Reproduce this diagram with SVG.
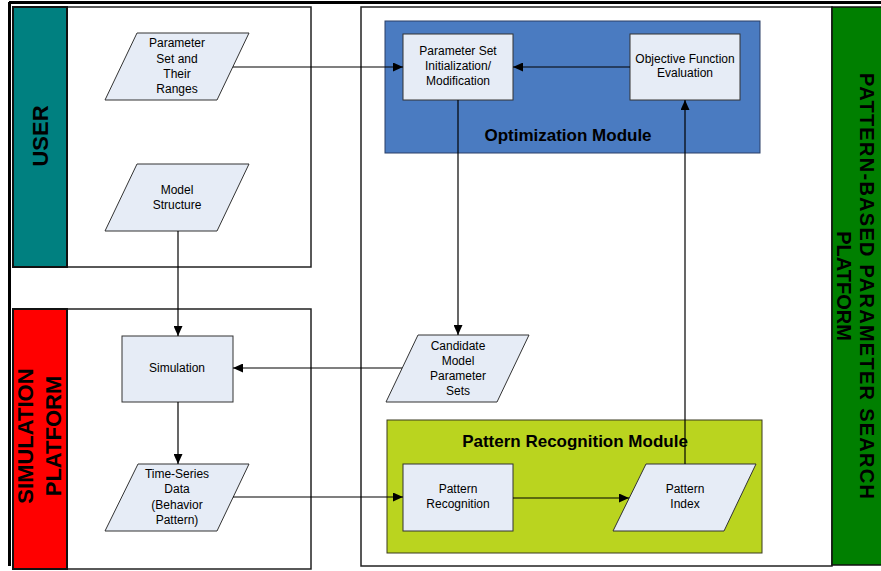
<svg xmlns="http://www.w3.org/2000/svg" width="881" height="571" viewBox="0 0 881 571">
<style>
.lane{fill:#ffffff;stroke:#222;stroke-width:1.5}
.node{fill:#E6ECF6;stroke:#333;stroke-width:1}
.t{font-family:"Liberation Sans",Arial,sans-serif;font-size:12px;fill:#000;text-anchor:middle}
.band{font-family:"Liberation Sans",Arial,sans-serif;font-size:22px;font-weight:bold;fill:#000;text-anchor:middle}
.title{font-family:"Liberation Sans",Arial,sans-serif;font-size:17px;font-weight:bold;fill:#000;text-anchor:middle}
.c{fill:none;stroke:#000;stroke-width:1.2;marker-end:url(#ah)}
</style>
<defs>
<marker id="ah" markerUnits="userSpaceOnUse" markerWidth="11" markerHeight="9" refX="10" refY="4.5" orient="auto">
<path d="M0,0 L10,4.5 L0,9 z" fill="#000"/>
</marker>
</defs>
<rect width="881" height="571" fill="#ffffff"/>
<g id="frame">
<line x1="9" y1="2.5" x2="881" y2="2.5" stroke="#000" stroke-width="3"/>
<line x1="9.5" y1="2" x2="9.5" y2="566" stroke="#000" stroke-width="3"/>
</g>
<g id="user-lane">
<rect class="lane" x="13" y="7" width="298" height="260"/>
<rect x="13" y="7" width="54" height="260" fill="#008080" stroke="#111" stroke-width="2"/>
<text class="band" transform="translate(48,136) rotate(-90)">USER</text>
</g>
<g id="simulation-lane">
<rect class="lane" x="13" y="309" width="298" height="260"/>
<rect x="13" y="309" width="54" height="260" fill="#FF0000" stroke="#111" stroke-width="2"/>
<text class="band" transform="translate(33,436) rotate(-90)">SIMULATION</text>
<text class="band" transform="translate(61,436) rotate(-90)">PLATFORM</text>
</g>
<g id="platform-lane">
<rect class="lane" x="361" y="7" width="471" height="559"/>
<rect x="832" y="7" width="52" height="558" fill="#007F00" stroke="#111" stroke-width="1.5"/>
<text class="band" style="font-size:20px" textLength="426" lengthAdjust="spacing" transform="translate(860,286) rotate(90)">PATTERN-BASED PARAMETER SEARCH</text>
<text class="band" style="font-size:20px" transform="translate(837,286) rotate(90)">PLATFORM</text>
</g>
<g id="optimization-module">
<rect x="385" y="21" width="375" height="132" fill="#4A7BC1" stroke="#2a3f66" stroke-width="1"/>
<text class="title" x="568" y="141">Optimization Module</text>
</g>
<g id="pattern-recognition-module">
<rect x="387" y="420" width="375" height="133" fill="#BAD41F" stroke="#3a3a20" stroke-width="1"/>
<text class="title" x="575" y="447">Pattern Recognition Module</text>
</g>
<g id="parameter-set-ranges">
<polygon class="node" points="137,33 249,33 217,100 105,100"/>
<text class="t" x="177" y="47">Parameter</text>
<text class="t" x="177" y="63">Set and</text>
<text class="t" x="177" y="78">Their</text>
<text class="t" x="177" y="93">Ranges</text>
</g>
<g id="model-structure">
<polygon class="node" points="137,164 249,164 217,231 105,231"/>
<text class="t" x="177" y="194">Model</text>
<text class="t" x="177" y="209">Structure</text>
</g>
<g id="simulation">
<rect class="node" x="122" y="336" width="111" height="66"/>
<text class="t" x="177" y="372">Simulation</text>
</g>
<g id="time-series-data">
<polygon class="node" points="138,464 249,464 217,531 105,531"/>
<text class="t" x="177" y="478">Time-Series</text>
<text class="t" x="177" y="493">Data</text>
<text class="t" x="177" y="509">(Behavior</text>
<text class="t" x="177" y="524">Pattern)</text>
</g>
<g id="parameter-set-init">
<rect class="node" x="403" y="34" width="110" height="66"/>
<text class="t" x="458" y="55">Parameter Set</text>
<text class="t" x="458" y="70">Initialization/</text>
<text class="t" x="458" y="85">Modification</text>
</g>
<g id="objective-function">
<rect class="node" x="630" y="34" width="110" height="66"/>
<text class="t" x="685" y="63">Objective Function</text>
<text class="t" x="685" y="77">Evaluation</text>
</g>
<g id="candidate-sets">
<polygon class="node" points="418,335 529,335 497,402 386,402"/>
<text class="t" x="458" y="350">Candidate</text>
<text class="t" x="458" y="365">Model</text>
<text class="t" x="458" y="380">Parameter</text>
<text class="t" x="458" y="395">Sets</text>
</g>
<g id="pattern-recognition">
<rect class="node" x="403" y="464" width="110" height="67"/>
<text class="t" x="458" y="493">Pattern</text>
<text class="t" x="458" y="508">Recognition</text>
</g>
<g id="pattern-index">
<polygon class="node" points="646,464 756,464 724,531 613,531"/>
<text class="t" x="685" y="493">Pattern</text>
<text class="t" x="685" y="508">Index</text>
</g>
<g id="connectors">
<path class="c" d="M233,67 L403,67"/>
<path class="c" d="M630,67 L513,67"/>
<path class="c" d="M458,100 L458,335"/>
<path class="c" d="M402,368 L233,368"/>
<path class="c" d="M178,231 L178,336"/>
<path class="c" d="M178,402 L178,464"/>
<path class="c" d="M233,497 L403,497"/>
<path class="c" d="M513,498 L629,498"/>
<path class="c" d="M685,464 L685,100"/>
</g>
</svg>
